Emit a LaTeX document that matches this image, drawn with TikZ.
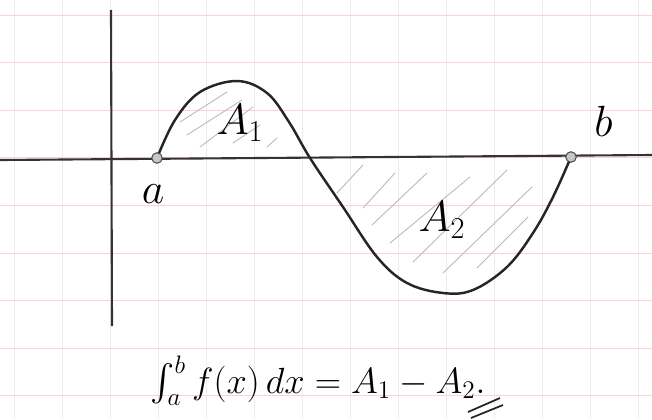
\documentclass[tikz,border=0pt]{standalone}
\usepackage{amsmath}
\usetikzlibrary{positioning}
\begin{document}
\begin{tikzpicture}[x=0.02cm, y=-0.02cm,
    rule/.style={red!18, line width=0.5pt},
    col/.style={gray!15, line width=0.5pt},
    axis/.style={black!80, line width=1.2pt},
    curve/.style={black!85, line width=1.4pt},
    hatch/.style={gray!55, line width=0.5pt, line cap=round},
    dot/.style={circle, draw=black!70, fill=gray!45, line width=0.6pt, inner sep=0pt, minimum size=6pt},
    lbl/.style={font=\fontsize{24}{28}\selectfont, inner sep=0pt}]

  \useasboundingbox (0,0) rectangle (652,419);
  \foreach \x in {14,62,...,652} \draw[col] (\x,0) -- (\x,419);
  \foreach \y in {15,62.6,...,419} \draw[rule] (0,\y) -- (652,\y);

  \foreach \xa/\ya/\xb/\yb in {180/122/227/92, 187/135/242/100, 200/147/253/107, 233/143/260/125, 267/147/277/138,
      337/193/363/165, 363/208/395/173, 372/225/427/173, 390/243/470/177, 413/262/507/170, 443/273/532/187, 477/268/528/217}
    \draw[hatch] (\xa,\ya) -- (\xb,\yb);

  \draw[axis] (0,160) -- (652,155);
  \draw[axis] (111,10) -- (112,326);

  \draw[curve] plot[smooth, tension=0.6] coordinates {(157,158) (175,120) (200,92) (237,81) (267,93) (289,122) (310,158)
      (343,207) (377,257) (407,283) (443,293) (473,290) (507,267) (533,233) (553,197) (571,157)};

  \node[dot] (a) at (157,158) {};
  \node[dot] (b) at (571,157) {};
  \node[lbl, below=0.42cm of a, xshift=-0.08cm] (alab) {$a$};
  \node[lbl, above right=0.32cm and 0.38cm of b] (blab) {$b$};
  \node[lbl] (A1) at (240,123) {$A_1$};
  \node[lbl] (A2) at (442,220) {$A_2$};

  \node[lbl, font=\fontsize{21}{26}\selectfont, anchor=base] (eq) at (318,393) {$\int_a^b f(x)\,dx = A_1 - A_2.$};
  \draw[curve, line width=1pt] (468,412) -- (500,398);
  \draw[curve, line width=1pt] (471,418) -- (503,405);
\end{tikzpicture}
\end{document}
